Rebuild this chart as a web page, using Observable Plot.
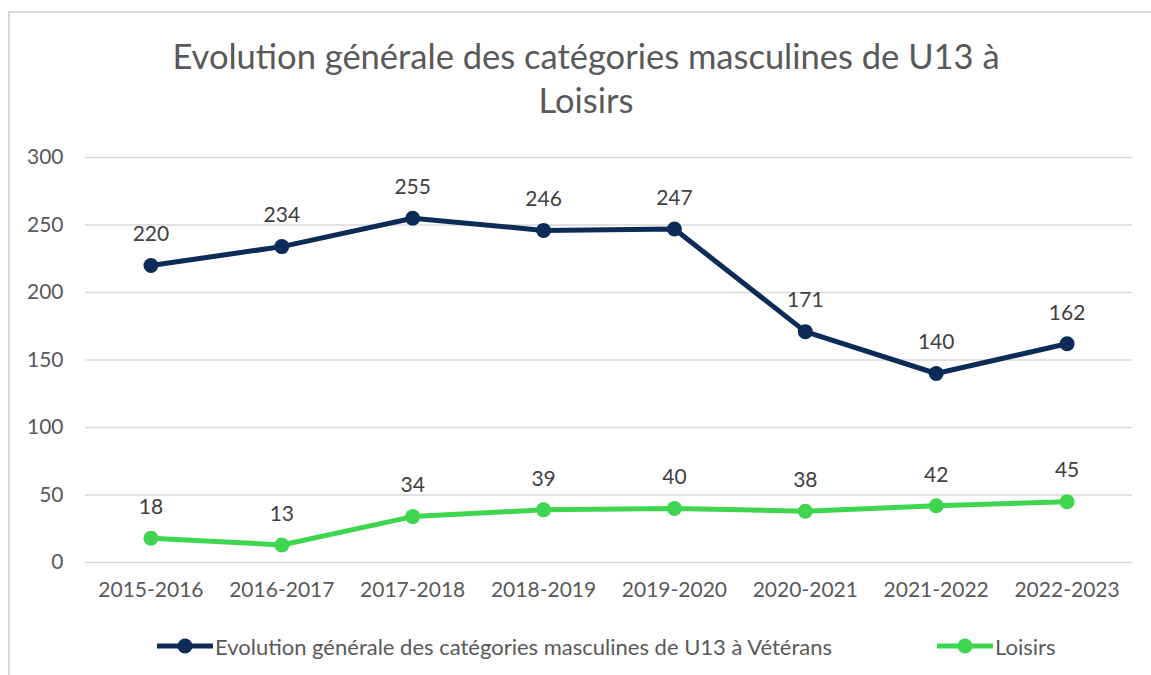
<!DOCTYPE html>
<html>
<head>
<meta charset="utf-8">
<script src="https://cdn.jsdelivr.net/npm/d3@7"></script>
<script src="https://cdn.jsdelivr.net/npm/@observablehq/plot@0.6"></script>
<style>
  html, body { margin: 0; padding: 0; background: #fff; }
  body { width: 1151px; height: 675px; position: relative; overflow: hidden; font-family: Lato, "Open Sans", sans-serif; }
  #frame { position: absolute; left: 8px; top: 11px; width: 1160px; height: 700px; border: 2px solid #d9d9d9; box-sizing: border-box; }
  #title { position: absolute; left: 0; top: 34px; width: 1172px; text-align: center; font-size: 34.5px; line-height: 44px; color: #595959; }
  #chart { position: absolute; left: 0; top: 130px; }
  #legend { position: absolute; top: 633px; left: 0; width: 1151px; height: 26px; font-size: 22px; color: #595959; }
  .item { position: absolute; top: 0; display: flex; align-items: center; height: 26px; white-space: nowrap; }
  .item svg { margin-right: 2px; }
</style>
</head>
<body>
<div id="frame"></div>
<div id="title">Evolution générale des catégories masculines de U13 à<br>Loisirs</div>
<div id="chart"></div>
<div id="legend"></div>
<script>
const seasons = ["2015-2016","2016-2017","2017-2018","2018-2019","2019-2020","2020-2021","2021-2022","2022-2023"];
const masculins = [220,234,255,246,247,171,140,162];
const loisirs = [18,13,34,39,40,38,42,45];
const seriesNames = ["Evolution générale des catégories masculines de U13 à Vétérans","Loisirs"];
const seriesColors = ["#0c2b57","#3fd64f"];
const yTicks = [0,50,100,150,200,250,300];

const data = [];
seasons.forEach((s,i) => {
  data.push({season: s, value: masculins[i], series: seriesNames[0]});
  data.push({season: s, value: loisirs[i], series: seriesNames[1]});
});

const plot = Plot.plot({
  width: 1151,
  height: 480,
  marginLeft: 85,
  marginRight: 19,
  marginTop: 27,
  marginBottom: 48,
  style: {fontFamily: "Lato, 'Open Sans', sans-serif", fontSize: "21px", color: "#595959", background: "transparent"},
  x: {type: "point", domain: seasons, padding: 0.5, round: false, label: null},
  y: {domain: [0,300], ticks: yTicks, label: null},
  color: {domain: seriesNames, range: seriesColors},
  marks: [
    Plot.gridY(yTicks, {stroke: "#d9d9d9", strokeOpacity: 1, strokeWidth: 1.5}),
    Plot.axisY(yTicks, {tickSize: 0, tickPadding: 22, fontSize: 21, fill: "#595959"}),
    Plot.axisX({tickSize: 0, tickPadding: 20, fontSize: 21, fill: "#595959"}),
    Plot.line(data, {x: "season", y: "value", z: "series", stroke: "series", strokeWidth: 5}),
    Plot.dot(data, {x: "season", y: "value", fill: "series", r: 7.5}),
    Plot.text(data, {x: "season", y: "value", text: d => String(d.value), dy: -31, fontSize: 21, fill: "#404040"})
  ]
});
document.getElementById("chart").appendChild(plot);

const legend = document.getElementById("legend");
const lefts = [157, 937];
seriesNames.forEach((name, i) => {
  const div = document.createElement("div");
  div.className = "item";
  div.style.left = lefts[i] + "px";
  div.innerHTML = `<svg width="56" height="20"><line x1="0" x2="56" y1="10" y2="10" stroke="${seriesColors[i]}" stroke-width="5"/><circle cx="28" cy="10" r="7.5" fill="${seriesColors[i]}"/></svg><span>${name}</span>`;
  legend.appendChild(div);
});
</script>
</body>
</html>
